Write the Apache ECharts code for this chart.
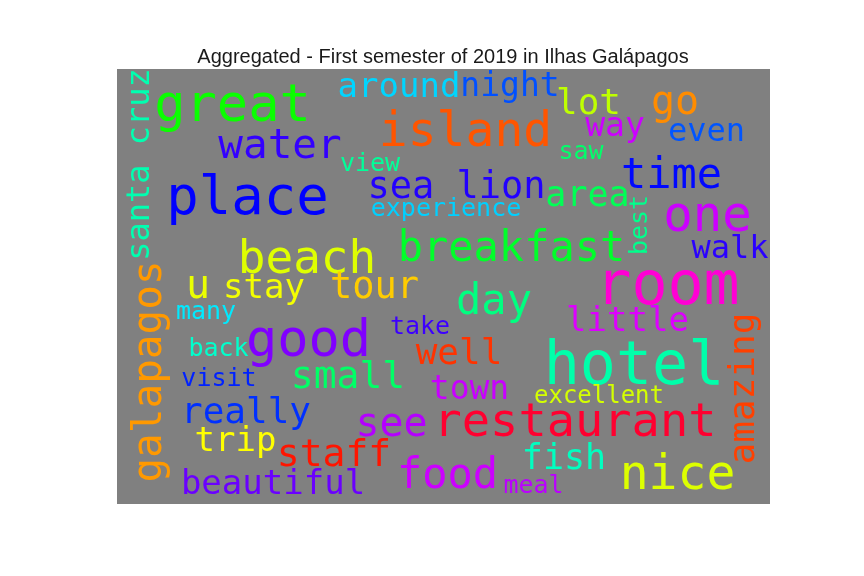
<!DOCTYPE html>
<html>
<head>
<meta charset="utf-8">
<script src="https://cdn.jsdelivr.net/npm/echarts@6/dist/echarts.min.js"></script>
<style>html,body{margin:0;padding:0;background:#fff}#c{width:864px;height:576px}</style>
</head>
<body>
<div id="c"></div>
<script>
const words = ['great','around','night','lot','go','island','way','even','water','view','saw','place','sea lion','time','area','experience','breakfast','one','walk','beach','u','stay','tour','day','room','many','good','take','little','back','well','hotel','small','visit','town','excellent','really','see','restaurant','trip','staff','fish','food','nice','meal','beautiful','santa cruz','galapagos','amazing','best'];
const weights = [52,34,33,36,40,48,33,32,41,25,25,54,37,42,35,25,42,49,32,46,40,34,37,42,60,25,52,25,34,25,36,60,38,25,33,24,36,40,47,34,38,35,42,48,25,34,32,41,36,25];
const posX = [232.5,399,510,588.5,675,465.5,615,706.5,280,370,581,247.5,456.5,671.5,587.5,446,511.5,707.5,730,307,198,264,374.5,494,667.5,206,308.5,420,627.5,218.5,459,634,348,219,469.5,599,246,391.5,575,235.5,334,564,447.5,677.5,533.5,273,141,150,745,640.5];
const posY = [107.5,87.8,87,104.2,103.4,133.5,127,132.3,147.2,164,152,200,188.2,176.9,196.6,209,249.9,218.2,249.3,261,287.4,288.8,288.1,302.9,288.6,312,342.5,327,321.8,349,354.4,368.6,377.9,379,390.1,397.2,413.4,425.4,423.7,441.8,455.9,459.6,476.9,476.5,486,484.8,164.5,371.5,388.5,225];
const rotations = [0,0,0,0,0,0,0,0,0,0,0,0,0,0,0,0,0,0,0,0,0,0,0,0,0,0,0,0,0,0,0,0,0,0,0,0,0,0,0,0,0,0,0,0,0,0,90,90,90,90];
const colors = ['#0aff00','#00d5ff','#0050ff','#bfff00','#ff8c00','#ff5500','#cc00ff','#0055ff','#3300ff','#00ff99','#00ff6a','#0000ff','#2200ff','#0008ff','#00ff55','#00d0ff','#00ff2a','#cc00ff','#2a00ff','#dfff00','#eaff00','#f4ff00','#ffcc00','#00ff80','#ff00d4','#00eaff','#8000ff','#3c00ff','#dd00ff','#00ffcc','#ff3300','#00ffaa','#00ff66','#0022ff','#c800ff','#d4ff00','#0030ff','#b400ff','#ff0030','#ffff00','#ff1500','#00ffc0','#cc00ff','#ddff00','#bb00ff','#6a00ff','#00ffb0','#ff9900','#ff4000','#00ff8c'];
const titleText = 'Aggregated - First semester of 2019 in Ilhas Galápagos';

const chart = echarts.init(document.getElementById('c'), null, {renderer:'canvas'});
const data = words.map((w,i)=>({
  name: w,
  value: [posX[i], posY[i]],
  label: {fontSize: weights[i], color: colors[i], rotate: rotations[i]}
}));
chart.setOption({
  animation: false,
  backgroundColor: '#ffffff',
  title: {text: titleText, left: 438, top: 42, textAlign: 'center',
    textStyle: {fontFamily: 'Liberation Sans', fontSize: 20, fontWeight: 'normal', color: '#1a1a1a'}},
  grid: {left: 117, top: 69, width: 653, height: 435, show: true, backgroundColor: '#808080', borderWidth: 0},
  xAxis: {type: 'value', min: 117, max: 770, show: false},
  yAxis: {type: 'value', min: 69, max: 504, inverse: true, show: false},
  series: [{
    type: 'scatter', symbolSize: 0, data: data,
    itemStyle: {opacity: 0},
    label: {show: true, position: 'inside', formatter: p => p.name, fontFamily: 'DejaVu Sans Mono',
      align: 'center', verticalAlign: 'middle', textBorderWidth: 0, textBorderColor: 'transparent', textShadowBlur: 0, opacity: 1},
    emphasis: {disabled: true}
  }]
});
</script>
</body>
</html>
